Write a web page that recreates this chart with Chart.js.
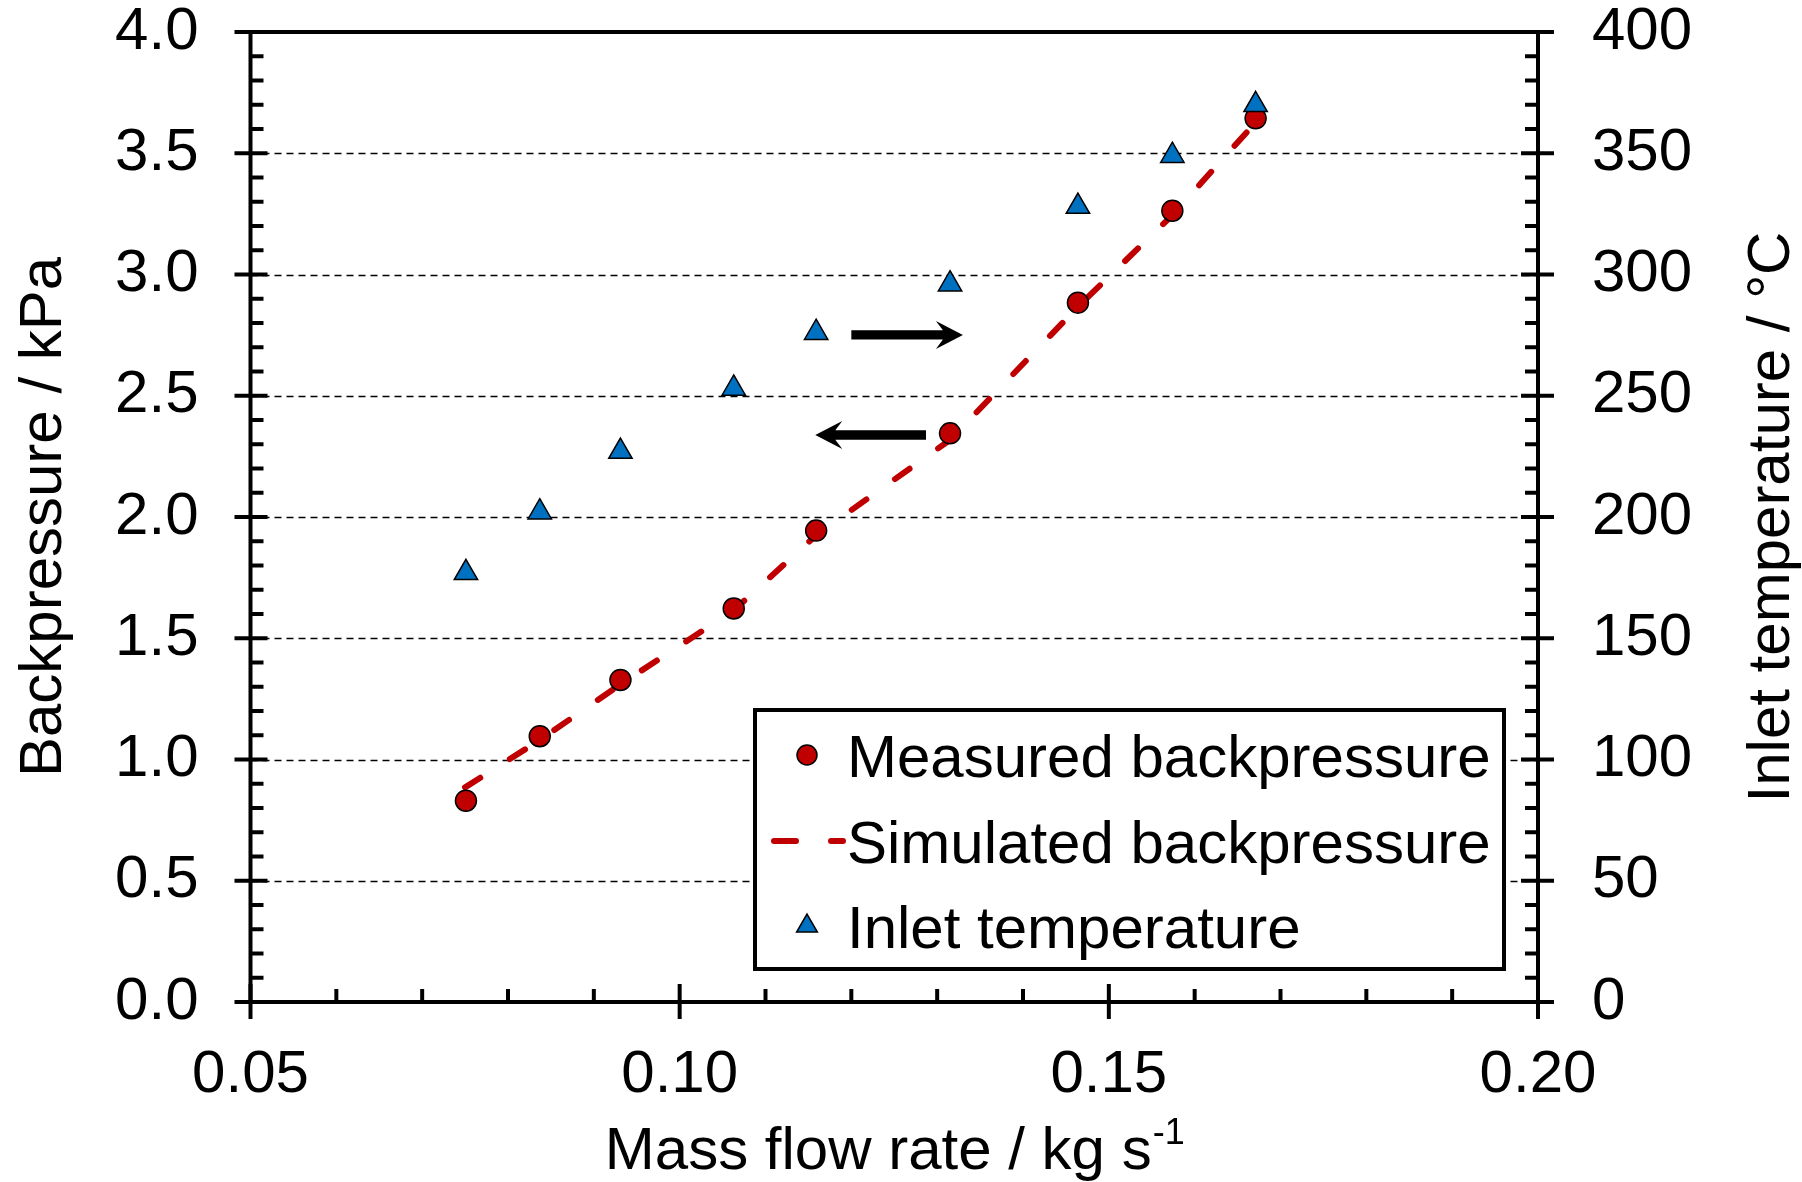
<!DOCTYPE html>
<html>
<head>
<meta charset="utf-8">
<script src="https://cdn.jsdelivr.net/npm/chart.js@4.4.0/dist/chart.umd.min.js"></script>
<style>
    html, body { margin: 0; background: #fff; }
    #wrap { width: 1802px; height: 1182px; position: relative; }
</style>
</head>
<body>
<div id="wrap"><canvas id="chart"></canvas></div>
<script>
    // Data
    const massFlow = [0.0751, 0.0837, 0.0931, 0.1063, 0.1159, 0.1315, 0.1464, 0.1574, 0.1671];
    const measuredKPa = [0.83, 1.096, 1.328, 1.623, 1.944, 2.345, 2.884, 3.263, 3.644];
    const inletTempC = [177, 202, 227, 253, 276, 296, 328, 349, 370];

    const simFlow = [0.0750, 0.0837, 0.0931, 0.1063, 0.1159, 0.1315, 0.1464, 0.1574, 0.1663];
    const simulatedKPa = [0.885, 1.08, 1.31, 1.615, 1.925, 2.318, 2.867, 3.245, 3.596];

    const xTicks = [0.05, 0.10, 0.15, 0.20];
    const yTicks = [0, 0.5, 1, 1.5, 2, 2.5, 3, 3.5, 4];
    const y2Ticks = [0, 50, 100, 150, 200, 250, 300, 350, 400];

    const legendLabels = ['Measured backpressure', 'Simulated backpressure', 'Inlet temperature'];

    // arrows pointing to the axis each series belongs to: [fromX, toX, y] in kPa units
    const arrowRight = [0.1200, 0.1330, 2.751];
    const arrowLeft = [0.1287, 0.1158, 2.338];

    const RED = '#C00000';
    const BLUE = '#0070C0';
    const FONT = '"Liberation Sans", Arial, sans-serif';
    const FS = 60;

    function pts(xs, ys) {
        return xs.map((x, i) => ({ x: x, y: ys[i] }));
    }

    function drawArrow(ctx, x0, x1, y) {
        const dir = x1 > x0 ? 1 : -1;
        const head = 27, half = 14, notch = 7, shaft = 4.7;
        ctx.save();
        ctx.fillStyle = '#000';
        ctx.beginPath();
        ctx.moveTo(x0, y - shaft);
        ctx.lineTo(x1 - dir * (head - notch), y - shaft);
        ctx.lineTo(x1 - dir * head, y - half);
        ctx.lineTo(x1, y);
        ctx.lineTo(x1 - dir * head, y + half);
        ctx.lineTo(x1 - dir * (head - notch), y + shaft);
        ctx.lineTo(x0, y + shaft);
        ctx.closePath();
        ctx.fill();
        ctx.restore();
    }

    const framePlugin = {
        id: 'frame',
        beforeDatasetsDraw(chart) {
            const { ctx, chartArea: a, scales } = chart;
            ctx.save();
            ctx.strokeStyle = '#000';
            ctx.lineWidth = 1.5;
            ctx.setLineDash([7, 5]);
            yTicks.slice(1, -1).forEach(v => {
                const y = Math.round(scales.y.getPixelForValue(v)) + 0.5;
                ctx.beginPath();
                ctx.moveTo(a.left, y);
                ctx.lineTo(a.right, y);
                ctx.stroke();
            });
            ctx.restore();
        },
        afterDatasetsDraw(chart) {
            const { ctx, chartArea: a, scales } = chart;
            ctx.save();
            ctx.strokeStyle = '#000';
            ctx.lineWidth = 4;
            ctx.setLineDash([]);
            ctx.strokeRect(a.left, a.top, a.right - a.left, a.bottom - a.top);

            const line = (x0, y0, x1, y1) => {
                ctx.beginPath();
                ctx.moveTo(x0, y0);
                ctx.lineTo(x1, y1);
                ctx.stroke();
            };

            // x axis: minor every 0.01, major every 0.05
            for (let i = 5; i <= 20; i++) {
                const x = scales.x.getPixelForValue(i / 100);
                if (i % 5 === 0) line(x, a.bottom + 17, x, a.bottom - 18);
                else line(x, a.bottom, x, a.bottom - 13);
            }
            // left axis: minor every 0.1 kPa
            for (let i = 0; i <= 40; i++) {
                const y = scales.y.getPixelForValue(i / 10);
                if (i % 5 === 0) line(a.left - 16, y, a.left + 17, y);
                else line(a.left, y, a.left + 13, y);
            }
            // right axis: minor every 10 °C
            for (let i = 0; i <= 40; i++) {
                const y = scales.y2.getPixelForValue(i * 10);
                if (i % 5 === 0) line(a.right + 16, y, a.right - 17, y);
                else line(a.right, y, a.right - 13, y);
            }

            drawArrow(ctx, scales.x.getPixelForValue(arrowRight[0]), scales.x.getPixelForValue(arrowRight[1]),
                scales.y.getPixelForValue(arrowRight[2]));
            drawArrow(ctx, scales.x.getPixelForValue(arrowLeft[0]), scales.x.getPixelForValue(arrowLeft[1]),
                scales.y.getPixelForValue(arrowLeft[2]));

            // legend box
            const bx = 755, by = 710, bw = 749, bh = 259;
            ctx.fillStyle = '#fff';
            ctx.fillRect(bx, by, bw, bh);
            ctx.lineWidth = 4;
            ctx.strokeRect(bx, by, bw, bh);

            const mx = 807, tx = 847;
            const rows = [755, 841, 926];
            ctx.lineWidth = 1.5;
            ctx.fillStyle = RED;
            ctx.beginPath();
            ctx.arc(mx, rows[0], 10, 0, Math.PI * 2);
            ctx.fill();
            ctx.stroke();

            ctx.save();
            ctx.strokeStyle = RED;
            ctx.lineWidth = 6;
            ctx.lineCap = 'round';
            line(774, rows[1], 796, rows[1]);
            line(831, rows[1], 843, rows[1]);
            ctx.restore();

            const r = 12;
            ctx.fillStyle = BLUE;
            ctx.beginPath();
            ctx.moveTo(mx, rows[2] - r);
            ctx.lineTo(mx + r * 0.866, rows[2] + r / 2);
            ctx.lineTo(mx - r * 0.866, rows[2] + r / 2);
            ctx.closePath();
            ctx.fill();
            ctx.stroke();

            ctx.fillStyle = '#000';
            ctx.font = FS + 'px ' + FONT;
            ctx.textAlign = 'left';
            ctx.textBaseline = 'alphabetic';
            legendLabels.forEach((t, i) => ctx.fillText(t, tx, rows[i] + 22));

            // axis titles
            const cx = (a.left + a.right) / 2;
            const cy = (a.top + a.bottom) / 2;
            const main = 'Mass flow rate / kg s';
            const w = ctx.measureText(main).width;
            ctx.font = '36px ' + FONT;
            const sw = ctx.measureText('-1').width;
            ctx.font = FS + 'px ' + FONT;
            const start = cx - (w + sw) / 2;
            ctx.fillText(main, start, 1169);
            ctx.font = '36px ' + FONT;
            ctx.fillText('-1', start + w + 1, 1144);

            ctx.font = FS + 'px ' + FONT;
            ctx.textAlign = 'center';
            ctx.save();
            ctx.translate(61, cy);
            ctx.rotate(-Math.PI / 2);
            ctx.fillText('Backpressure / kPa', 0, 0);
            ctx.restore();
            ctx.save();
            ctx.translate(1789, cy);
            ctx.rotate(-Math.PI / 2);
            ctx.fillText('Inlet temperature / \u00B0C', 0, 0);
            ctx.restore();
            ctx.restore();
        }
    };

    const tickFont = { family: FONT, size: FS };

    function fixWidth(w) {
        return s => {
            s.width = w;
            s.paddingTop = 0;
            s.paddingBottom = 0;
        };
    }

    new Chart(document.getElementById('chart'), {
        type: 'scatter',
        data: {
            datasets: [
                {
                    label: legendLabels[2],
                    data: pts(massFlow, inletTempC),
                    yAxisID: 'y2',
                    pointStyle: 'triangle',
                    pointRadius: 13.5,
                    backgroundColor: BLUE,
                    borderColor: '#000',
                    borderWidth: 1.5,
                    order: 0
                },
                {
                    label: legendLabels[0],
                    data: pts(massFlow, measuredKPa),
                    yAxisID: 'y',
                    pointStyle: 'circle',
                    pointRadius: 10.5,
                    backgroundColor: RED,
                    borderColor: '#000',
                    borderWidth: 1.5,
                    order: 1
                },
                {
                    label: legendLabels[1],
                    type: 'line',
                    data: pts(simFlow, simulatedKPa),
                    yAxisID: 'y',
                    showLine: true,
                    fill: false,
                    tension: 0,
                    borderColor: RED,
                    borderWidth: 6,
                    borderDash: [18, 35],
                    borderCapStyle: 'round',
                    pointRadius: 0,
                    order: 2
                }
            ]
        },
        options: {
            responsive: true,
            maintainAspectRatio: false,
            animation: false,
            layout: { padding: { top: 32, left: 0, right: 0, bottom: 0 } },
            plugins: {
                legend: { display: false },
                tooltip: { enabled: false }
            },
            scales: {
                x: {
                    type: 'linear',
                    min: 0.05,
                    max: 0.20,
                    afterFit: s => { s.height = 180; s.paddingLeft = 0; s.paddingRight = 0; },
                    afterBuildTicks: s => { s.ticks = xTicks.map(v => ({ value: v })); },
                    grid: { display: false, drawTicks: false },
                    border: { display: false },
                    ticks: {
                        color: '#000',
                        font: tickFont,
                        padding: 37,
                        maxRotation: 0,
                        callback: v => v.toFixed(2)
                    }
                },
                y: {
                    position: 'left',
                    min: 0,
                    max: 4,
                    afterFit: fixWidth(250.5),
                    afterBuildTicks: s => { s.ticks = yTicks.map(v => ({ value: v })); },
                    grid: { display: false, drawTicks: false },
                    border: { display: false },
                    ticks: {
                        color: '#000',
                        font: tickFont,
                        padding: 52,
                        callback: v => v.toFixed(1)
                    }
                },
                y2: {
                    position: 'right',
                    min: 0,
                    max: 400,
                    afterFit: fixWidth(264),
                    afterBuildTicks: s => { s.ticks = y2Ticks.map(v => ({ value: v })); },
                    grid: { display: false, drawTicks: false },
                    border: { display: false },
                    ticks: {
                        color: '#000',
                        font: tickFont,
                        padding: 54,
                        callback: v => String(v)
                    }
                }
            }
        },
        plugins: [framePlugin]
    });
</script>
</body>
</html>
